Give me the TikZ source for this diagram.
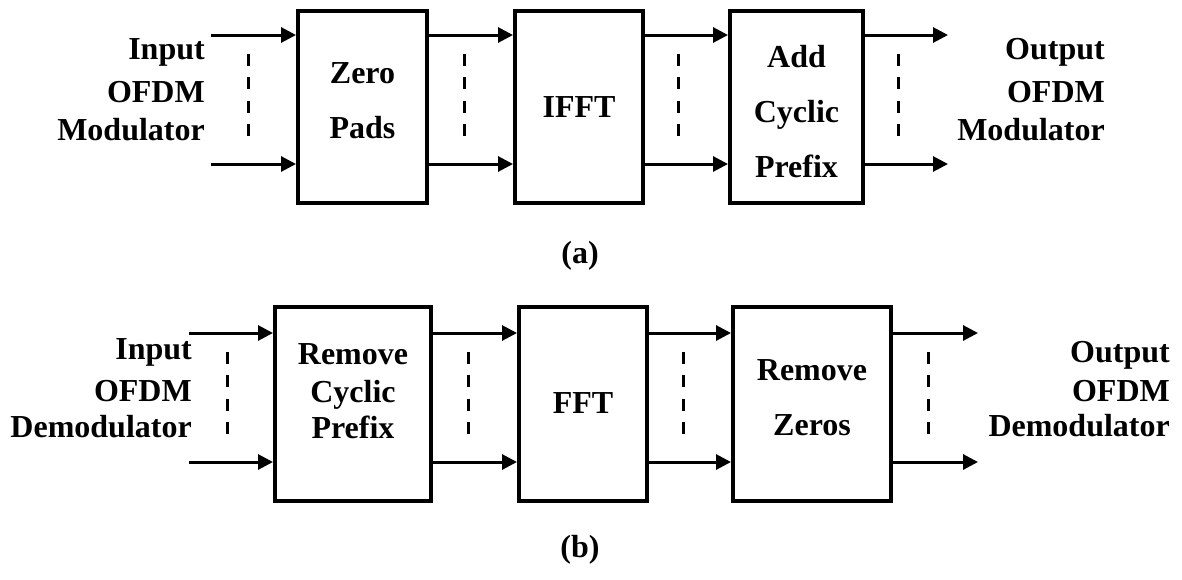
\documentclass[tikz,border=0pt]{standalone}
\usepackage{fontspec}
\setmainfont{Liberation Serif}
\usetikzlibrary{arrows.meta}
\begin{document}
\begin{tikzpicture}[x=1pt,y=-1pt,
  blk/.style={draw, line width=4pt, inner sep=0pt},
  lbl/.style={font=\fontsize{32}{38}\selectfont\bfseries, inner sep=0pt},
  sig/.style={line width=3pt, -{Triangle[length=15pt,width=15pt]}},
  dots/.style={line width=3pt, dash pattern=on 11.7pt off 11.7pt}]
\useasboundingbox (0,0) rectangle (1182,579);

% ---------- (a) OFDM modulator ----------
\node[blk, minimum width=129pt, minimum height=192pt] (zp)   at (362.5,107) {};
\node[blk, minimum width=128pt, minimum height=192pt] (ifft) at (579,107) {};
\node[blk, minimum width=133pt, minimum height=192pt] (acp)  at (796.5,107) {};

\node[lbl, anchor=base] (zpA) at (362.5,83) {Zero};
\node[lbl, anchor=base] (zpB) at (362.5,138) {Pads};
\node[lbl, anchor=base] (ifftA) at (579,117) {IFFT};
\node[lbl, anchor=base] (acpA) at (796.5,67) {Add};
\node[lbl, anchor=base] (acpB) at (796.5,122) {Cyclic};
\node[lbl, anchor=base] (acpC) at (796.5,177) {Prefix};

\node[lbl, anchor=base east] (inA1) at (205,59) {Input};
\node[lbl, anchor=base east] (inA2) at (205,102) {OFDM};
\node[lbl, anchor=base east] (inA3) at (205,140) {Modulator};
\node[lbl, anchor=base east] (outA1) at (1105,59) {Output};
\node[lbl, anchor=base east] (outA2) at (1105,102) {OFDM};
\node[lbl, anchor=base east] (outA3) at (1105,140) {Modulator};

\coordinate (ina1) at (211,35);
\coordinate (ina2) at (211,164);
\coordinate (outa1) at (948,35);
\coordinate (outa2) at (948,164);
\foreach \c in {ina1,ina2}{
  \draw[sig] (\c) -- (zp.west |- \c);
  \draw[sig] (zp.east |- \c) -- (ifft.west |- \c);
  \draw[sig] (ifft.east |- \c) -- (acp.west |- \c);
}
\draw[sig] (acp.east |- outa1) -- (outa1);
\draw[sig] (acp.east |- outa2) -- (outa2);

\foreach \x in {248,464,678,898}
  \draw[dots] (\x,54) -- (\x,137);

\node[lbl, anchor=base] (capA) at (580,263) {(a)};

% ---------- (b) OFDM demodulator ----------
\node[blk, minimum width=156pt, minimum height=194pt] (rcp) at (353,404) {};
\node[blk, minimum width=128pt, minimum height=194pt] (fft) at (583,404) {};
\node[blk, minimum width=158pt, minimum height=194pt] (rz)  at (812,404) {};

\node[lbl, anchor=base] (rcpA) at (353,364) {Remove};
\node[lbl, anchor=base] (rcpB) at (353,402) {Cyclic};
\node[lbl, anchor=base] (rcpC) at (353,438) {Prefix};
\node[lbl, anchor=base] (fftA) at (583,413) {FFT};
\node[lbl, anchor=base] (rzA) at (812,380) {Remove};
\node[lbl, anchor=base] (rzB) at (812,435) {Zeros};

\node[lbl, anchor=base east] (inB1) at (192,359) {Input};
\node[lbl, anchor=base east] (inB2) at (192,401) {OFDM};
\node[lbl, anchor=base east] (inB3) at (192,437) {Demodulator};
\node[lbl, anchor=base east] (outB1) at (1170,362) {Output};
\node[lbl, anchor=base east] (outB2) at (1170,401) {OFDM};
\node[lbl, anchor=base east] (outB3) at (1170,436) {Demodulator};

\coordinate (inb1) at (189,333);
\coordinate (inb2) at (189,462);
\coordinate (outb1) at (978,333);
\coordinate (outb2) at (978,462);
\foreach \c in {inb1,inb2}{
  \draw[sig] (\c) -- (rcp.west |- \c);
  \draw[sig] (rcp.east |- \c) -- (fft.west |- \c);
  \draw[sig] (fft.east |- \c) -- (rz.west |- \c);
}
\draw[sig] (rz.east |- outb1) -- (outb1);
\draw[sig] (rz.east |- outb2) -- (outb2);

\foreach \x in {227,468,683,928}
  \draw[dots] (\x,352) -- (\x,435);

\node[lbl, anchor=base] (capB) at (580,557) {(b)};
\end{tikzpicture}
\end{document}
